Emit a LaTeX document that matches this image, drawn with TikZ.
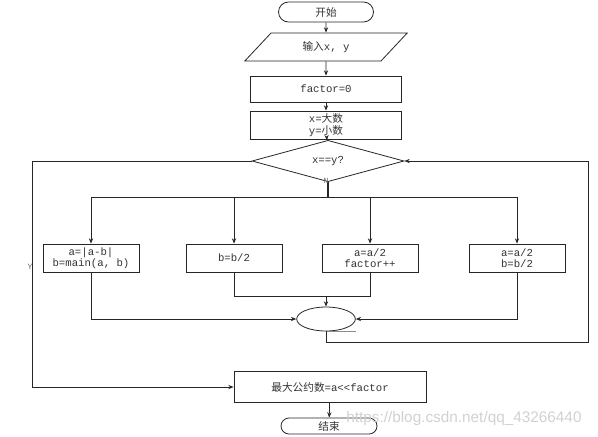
\documentclass[tikz,border=0pt]{standalone}
\usepackage{fontspec}
\setmainfont{Liberation Mono}
\newfontfamily\cjk{Noto Sans CJK SC}
\newfontfamily\wmfont{Liberation Sans}
\usetikzlibrary{shapes.geometric,shapes.misc,arrows.meta}
\begin{document}
\begin{tikzpicture}[x=0.75pt,y=-0.75pt,
  every node/.style={font=\fontsize{8}{8.5}\selectfont, text=black!80, inner sep=0pt},
  box/.style={draw=black!85, line width=0.6pt, rectangle, align=center},
  term/.style={draw=black!85, line width=0.6pt, rounded rectangle},
  conn/.style={draw=black!85, line width=0.6pt},
  arr/.style={conn, -{Stealth[length=4pt,width=3.2pt]}},
  lbl/.style={font=\fontsize{6}{6}\selectfont, text=black!60}
]
\useasboundingbox (0,0) rectangle (598,436);

\node[term, minimum width=71.25pt, minimum height=15pt] (start) at (326,12) {\cjk 开始};
\node[draw=black!85, line width=0.6pt, trapezium, trapezium left angle=45, trapezium right angle=135,
      trapezium stretches=true, minimum width=122pt, minimum height=21pt] (inp) at (326,47) {{\cjk 输入}x, y};
\node[box, minimum width=113pt, minimum height=19.5pt] (fac) at (326,89) {factor=0};
\node[box, minimum width=113pt, minimum height=21pt] (xy) at (326,125) {x={\cjk 大数}\\y={\cjk 小数}};
\node[draw=black!85, line width=0.6pt, diamond, minimum width=114pt, minimum height=21pt] (dia) at (328,161) {x==y?};

\node[box, minimum width=72pt, minimum height=21pt] (b1) at (91,258) {a=|a-b|\\b=main(a, b)};
\node[box, minimum width=72pt, minimum height=21pt] (b2) at (234,258) {b=b/2};
\node[box, minimum width=72pt, minimum height=21pt] (b3) at (370,258) {a=a/2\\factor++};
\node[box, minimum width=72pt, minimum height=21pt] (b4) at (517,258) {a=a/2\\b=b/2};

\node[draw=black!85, line width=0.6pt, ellipse, minimum width=44pt, minimum height=18pt] (ell) at (326,319) {};

\node[box, minimum width=144pt, minimum height=23pt] (fin) at (330,387) {{\cjk 最大公约数}=a{<}{<}factor};
\node[term, minimum width=72pt, minimum height=12pt] (end) at (329,426) {\cjk 结束};

\node[font=\wmfont\fontsize{11.5}{12}\selectfont, text=black!18, anchor=west] (wm) at (346,419) {https://blog.csdn.net/qq\_43266440};

% main column
\draw[arr] (start) -- (inp);
\draw[arr] (inp) -- (fac);
\draw[arr] (fac) -- (xy);
\draw[arr] (xy) -- (dia);

% branches
\coordinate (split) at (dia.south |- 0,197);
\draw[conn, line width=1pt] (dia.south) -- (split);
\draw[conn] (b1 |- split) -- (b4 |- split);
\draw[arr] (b1 |- split) -- (b1.north);
\draw[arr] (b2 |- split) -- (b2.north);
\draw[arr] (b3 |- split) -- (b3.north);
\draw[arr] (b4 |- split) -- (b4.north);
\node[lbl] (nlab) at (326,181) {N};

% merge
\draw[arr] (b1.south) |- (ell.west);
\draw[arr] (b4.south) |- (ell.east);
\coordinate (m23) at (ell.north |- 0,296);
\draw[conn] (b2.south) |- (b3.south |- m23) -- (b3.south);
\draw[arr] (m23) -- (ell.north);
\draw[draw=black!45, line width=0.6pt] (ell.south) -- ++(30,0);

% loop back
\coordinate (lb) at (326,342);
\coordinate (rc) at (588,342);
\draw[arr] (ell.south) -- (lb) -- (rc) |- (dia.east);

% exit
\coordinate (lc) at (32,161);
\draw[arr] (dia.west) -- (lc) |- (fin.west);
\node[lbl] (ylab) at (30,267) {Y};

\draw[arr] (fin) -- (end);
\end{tikzpicture}
\end{document}
